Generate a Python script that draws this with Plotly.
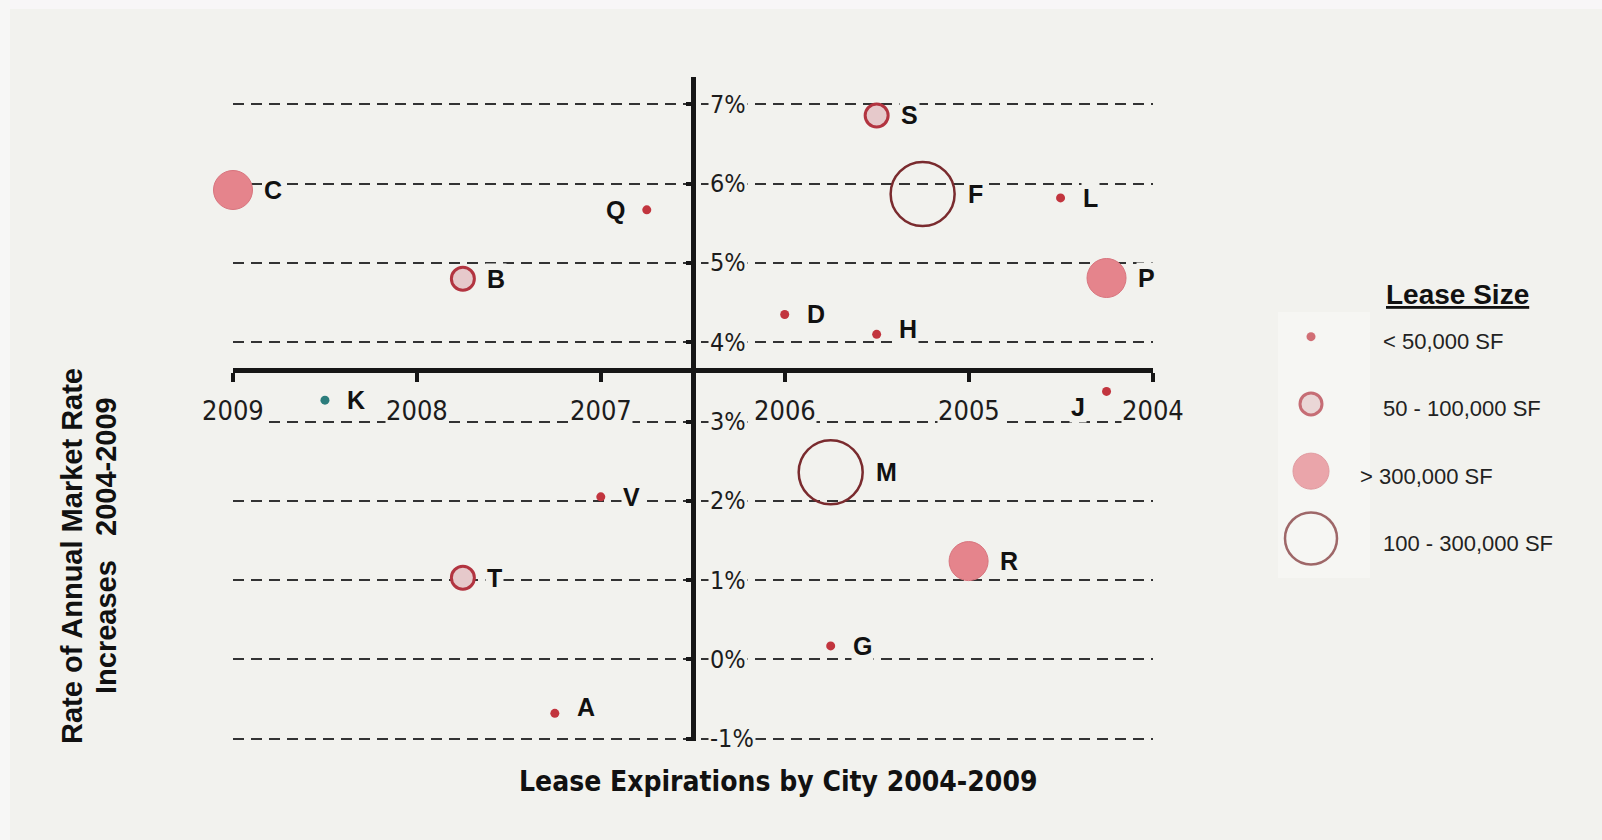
import plotly.graph_objects as go

# ---- data -------------------------------------------------------------
cities = ["C", "Q", "B", "S", "F", "L", "P", "D", "H",
          "K", "J", "M", "V", "T", "R", "G", "A"]
expiry_year = [2009.0, 2006.75, 2007.75, 2005.5, 2005.25, 2004.5, 2004.25, 2006.0, 2005.5,
               2008.5, 2004.25, 2005.75, 2007.0, 2007.75, 2005.0, 2005.75, 2007.25]
rate_increase = [5.92, 5.67, 4.80, 6.86, 5.87, 5.82, 4.81, 4.35, 4.10,
                 3.27, 3.38, 2.36, 2.05, 1.03, 1.24, 0.17, -0.68]
size_classes = ["< 50,000 SF", "50 - 100,000 SF", "> 300,000 SF", "100 - 300,000 SF"]
lease_size = ["> 300,000 SF", "< 50,000 SF", "50 - 100,000 SF", "50 - 100,000 SF",
              "100 - 300,000 SF", "< 50,000 SF", "> 300,000 SF", "< 50,000 SF", "< 50,000 SF",
              "< 50,000 SF", "< 50,000 SF", "100 - 300,000 SF", "< 50,000 SF", "50 - 100,000 SF",
              "> 300,000 SF", "< 50,000 SF", "< 50,000 SF"]

year_ticks = [2009, 2008, 2007, 2006, 2005, 2004]
year_labels = ["2009", "2008", "2007", "2006", "2005", "2004"]
pct_ticks = [7, 6, 5, 4, 3, 2, 1, 0, -1]
pct_labels = ["7%", "6%", "5%", "4%", "3%", "2%", "1%", "0%", "-1%"]

# ---- styling ----------------------------------------------------------
W, H = 1602, 840
BG = "#f2f2ee"
INK = "#161616"
NARROW = "DejaVu Sans Condensed, Liberation Sans Narrow, sans-serif"
SANS = "Liberation Sans, Arial, sans-serif"

x_range = [2009, 2004]          # reversed: later years on the left
y_range = [-1.03, 7.35]
x_cross = 2006.5                # where the vertical axis sits
y_cross = 3.65                  # where the horizontal axis sits

x_dom = [233 / W, 1152.5 / W]
y_dom = [1 - 741.1 / H, 1 - 76.6 / H]

marker_style = {
    "< 50,000 SF":      dict(size=9,  color="#c2353e", line=dict(width=0)),
    "50 - 100,000 SF":  dict(size=23, color="#e6c9cb", line=dict(width=3, color="#b23440")),
    "> 300,000 SF":     dict(size=39, color="#e5848c", line=dict(width=1, color="#d8747d")),
    "100 - 300,000 SF": dict(size=64, color="rgba(0,0,0,0)", line=dict(width=2.5, color="#7a2b2e")),
}
legend_size = {"< 50,000 SF": 9, "50 - 100,000 SF": 22, "> 300,000 SF": 36, "100 - 300,000 SF": 52}
label_gap = {"< 50,000 SF": 20, "50 - 100,000 SF": 22, "> 300,000 SF": 29, "100 - 300,000 SF": 43}
colour_override = {"K": "#2c7d7c"}
label_left = {"Q": (-20, 0), "J": (-20, -16)}
label_dy = {"H": 5, "A": 6}

fig = go.Figure()

# one trace per lease-size class
for cls in size_classes:
    idx = [i for i, s in enumerate(lease_size) if s == cls]
    st = marker_style[cls]
    colours = [colour_override.get(cities[i], st["color"]) for i in idx]
    fig.add_trace(go.Scatter(
        x=[expiry_year[i] for i in idx],
        y=[rate_increase[i] for i in idx],
        mode="markers",
        marker=dict(size=st["size"], color=colours, line=st["line"], opacity=1),
        cliponaxis=False,
        hovertext=[cities[i] for i in idx],
        name=cls,
        showlegend=False,
    ))

# size key on its own small axis pair
fig.add_trace(go.Scatter(
    x=[0] * len(size_classes),
    y=size_classes,
    mode="markers",
    marker=dict(
        size=[legend_size[c] for c in size_classes],
        color=[marker_style[c]["color"] for c in size_classes],
        line=dict(width=[marker_style[c]["line"]["width"] for c in size_classes],
                  color=[marker_style[c]["line"].get("color", marker_style[c]["color"]) for c in size_classes]),
    ),
    xaxis="x2", yaxis="y2", cliponaxis=False, showlegend=False, hoverinfo="skip",
))

annotations = []

# city labels
for i, c in enumerate(cities):
    cls = lease_size[i]
    if c in label_left:
        dx, dy = label_left[c]
        anchor = "right"
    else:
        dx, dy = label_gap[cls], label_dy.get(c, 0)
        anchor = "left"
    annotations.append(dict(
        x=expiry_year[i], y=rate_increase[i], xref="x", yref="y",
        text=c, showarrow=False, xanchor=anchor, yanchor="middle",
        xshift=dx, yshift=dy, bgcolor=BG, borderpad=1,
        font=dict(family=SANS, size=25, color="#111111", weight="bold"),
    ))

# year labels under the horizontal axis
for v, t in zip(year_ticks, year_labels):
    annotations.append(dict(
        x=v, y=y_cross, xref="x", yref="y", text=t, showarrow=False,
        xanchor="center", yanchor="middle", yshift=-41, bgcolor=BG, borderpad=0,
        font=dict(family=NARROW, size=27, color="#1c1c1c"),
    ))

# percent labels beside the vertical axis
for v, t in zip(pct_ticks, pct_labels):
    annotations.append(dict(
        x=x_cross, y=v, xref="x", yref="y", text=t, showarrow=False,
        xanchor="left", yanchor="middle", xshift=15, bgcolor=BG, borderpad=1,
        font=dict(family=NARROW, size=25, color="#1c1c1c"),
    ))

# size key text
key_dx = {"> 300,000 SF": -23}
for c in size_classes:
    annotations.append(dict(
        x=1, y=c, xref="x2", yref="y2", text=c, showarrow=False,
        xanchor="left", yanchor="middle", xshift=key_dx.get(c, 0), yshift=-5,
        font=dict(family=SANS, size=22, color="#222222"),
    ))
annotations.append(dict(
    x=1457 / W, y=1 - 294 / H, xref="paper", yref="paper",
    text="<b><u>Lease Size</u></b>", showarrow=False,
    xanchor="center", yanchor="middle",
    font=dict(family=SANS, size=28, color="#111111"),
))

# axis titles
annotations.append(dict(
    x=778 / W, y=1 - 781 / H, xref="paper", yref="paper",
    text="<b>Lease Expirations by City 2004-2009</b>", showarrow=False,
    xanchor="center", yanchor="middle",
    font=dict(family=NARROW, size=28, color="#111111"),
))
for text, px, py in [("<b>Rate of Annual Market Rate</b>", 72, 556),
                     ("<b>Increases&nbsp;&nbsp; 2004-2009</b>", 106, 545)]:
    annotations.append(dict(
        x=px / W, y=1 - py / H, xref="paper", yref="paper",
        text=text, showarrow=False, textangle=-90,
        xanchor="center", yanchor="middle",
        font=dict(family=SANS, size=29, color="#111111"),
    ))

x_pos = y_dom[0] + (y_cross - y_range[0]) / (y_range[1] - y_range[0]) * (y_dom[1] - y_dom[0])
y_pos = x_dom[0] + (x_range[0] - x_cross) / (x_range[0] - x_range[1]) * (x_dom[1] - x_dom[0])

fig.update_layout(
    width=W, height=H,
    margin=dict(l=0, r=0, t=0, b=0),
    paper_bgcolor=BG, plot_bgcolor=BG,
    showlegend=False,
    xaxis=dict(
        domain=x_dom, range=x_range, anchor="free", position=x_pos,
        showline=True, linecolor=INK, linewidth=5,
        ticks="outside", ticklen=9, tickwidth=4, tickcolor=INK,
        tickvals=year_ticks, showticklabels=False,
        showgrid=False, zeroline=False,
    ),
    yaxis=dict(
        domain=y_dom, range=y_range, anchor="free", position=y_pos,
        showline=True, linecolor=INK, linewidth=4.5,
        ticks="outside", ticklen=5, tickwidth=4, tickcolor=INK,
        tickvals=pct_ticks, showticklabels=False,
        showgrid=True, gridcolor="#333333", gridwidth=2.3, griddash="11px,7px",
        zeroline=False,
    ),
    xaxis2=dict(domain=[(1311 - 70) / W, (1311 + 70) / W], range=[-1, 1],
                anchor="y2", visible=False, fixedrange=True),
    yaxis2=dict(domain=[1 - 572 / H, 1 - 303 / H], range=[3.5, -0.5],
                type="category", categoryorder="array", categoryarray=size_classes,
                anchor="x2", visible=False, fixedrange=True),
    annotations=annotations,
    shapes=[
        dict(type="rect", xref="paper", yref="paper", x0=0, x1=1, y0=1 - 9 / H, y1=1,
             fillcolor="#f8f6f7", line=dict(width=0), layer="below"),
        dict(type="rect", xref="paper", yref="paper", x0=0, x1=10 / W, y0=0, y1=1,
             fillcolor="#f7f7f6", line=dict(width=0), layer="below"),
        dict(type="rect", xref="paper", yref="paper", x0=1278 / W, x1=1370 / W,
             y0=1 - 578 / H, y1=1 - 312 / H,
             fillcolor="#f6f6f3", line=dict(width=0), layer="below"),
    ],
)

fig.write_html("out.html")
